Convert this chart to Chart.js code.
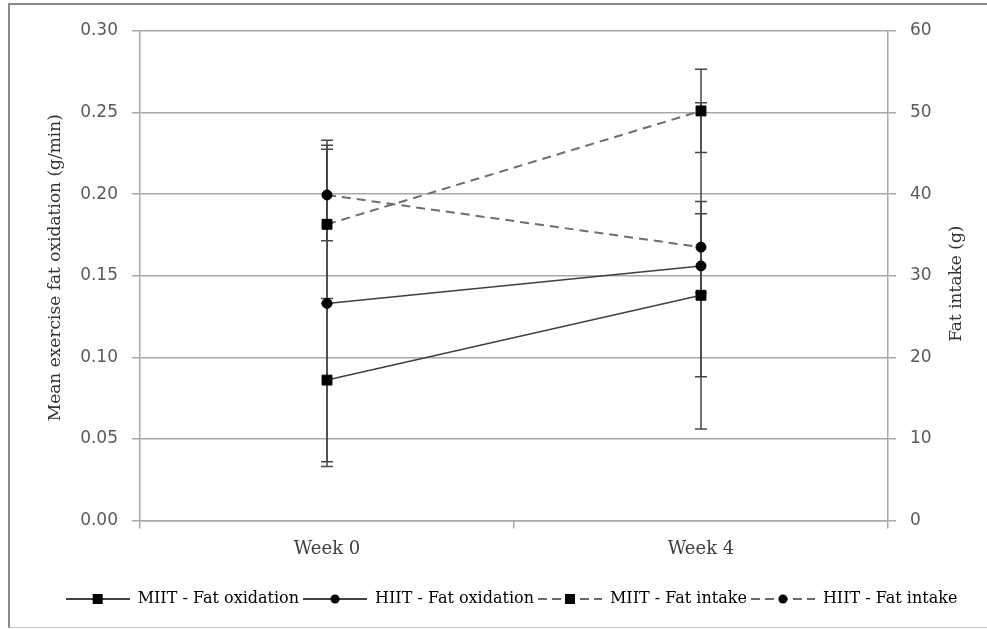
<!DOCTYPE html>
<html>
<head>
<meta charset="utf-8">
<script src="https://cdn.jsdelivr.net/npm/chart.js@4.4.1/dist/chart.umd.min.js"></script>
<style>
    html, body { margin: 0; padding: 0; background: #fff; }
    #wrap { position: relative; width: 987px; height: 629px; overflow: hidden; }
    #frame { position: absolute; left: 8px; top: 3px; width: 1000px; height: 622px;
             border-left: 2px solid #8a8a8a; border-top: 2px solid #8a8a8a; border-bottom: 1px solid #c8c8c8; }
    #fat_chart { position: absolute; left: 0; top: 0; }
</style>
</head>
<body>
<div id="wrap">
    <div id="frame"></div>
    <canvas id="fat_chart" width="987" height="629"></canvas>
</div>
<script>
var weeks = ["Week 0", "Week 4"];

// fat oxidation (g/min), left axis
var miitOx = [0.086, 0.138];
var miitOxErr = [0.050, 0.050];
var hiitOx = [0.133, 0.156];
var hiitOxErr = [0.100, 0.100];

// fat intake (g), right axis
var miitIntake = [36.3, 50.2];
var miitIntakeErr = [9.7, 5.1];
var hiitIntake = [39.9, 33.5];
var hiitIntakeErr = [5.6, 5.6];

var oxTicks = [0, 0.05, 0.10, 0.15, 0.20, 0.25, 0.30];
var intakeTicks = [0, 10, 20, 30, 40, 50, 60];

var gridColor = '#a8a8a8';
var serif = "'DejaVu Serif', serif";
var sans = "'DejaVu Sans', sans-serif";

// legend symbol: short line with the marker in the middle
function legendIcon(style, dashed) {
    var c = document.createElement('canvas');
    c.width = 64;
    c.height = 14;
    var g = c.getContext('2d');
    g.strokeStyle = dashed ? '#6a6a6a' : '#444';
    g.lineWidth = 2;
    if (dashed) g.setLineDash([9, 5]);
    g.beginPath();
    g.moveTo(0, 7);
    g.lineTo(64, 7);
    g.stroke();
    g.fillStyle = '#000';
    if (style === 'rect') {
        g.fillRect(27, 2, 10, 10);
    } else {
        g.beginPath();
        g.arc(32, 7, 4.5, 0, Math.PI * 2);
        g.fill();
    }
    return c;
}

var errorBars = {
    id: 'errorBars',
    beforeDatasetsDraw: function (chart) {
        var ctx = chart.ctx;
        ctx.save();
        ctx.strokeStyle = '#474747';
        ctx.lineWidth = 1.5;
        chart.data.datasets.forEach(function (ds, i) {
            var meta = chart.getDatasetMeta(i);
            var scale = chart.scales[ds.yAxisID];
            for (var j = 0; j < ds.data.length; j++) {
                var x = meta.data[j].x;
                var top = scale.getPixelForValue(ds.data[j] + ds.errors[j]);
                var bot = scale.getPixelForValue(ds.data[j] - ds.errors[j]);
                ctx.beginPath();
                ctx.moveTo(x, top);
                ctx.lineTo(x, bot);
                ctx.moveTo(x - 6, top);
                ctx.lineTo(x + 6, top);
                ctx.moveTo(x - 6, bot);
                ctx.lineTo(x + 6, bot);
                ctx.stroke();
            }
        });
        ctx.restore();
    }
};

var axisTitles = {
    id: 'axisTitles',
    afterDraw: function (chart) {
        var ctx = chart.ctx;
        var area = chart.chartArea;
        ctx.save();
        ctx.fillStyle = '#333';
        ctx.font = "17px " + serif;
        ctx.textAlign = 'center';
        ctx.textBaseline = 'middle';

        ctx.translate(56, (area.top + area.bottom) / 2 - 8);
        ctx.rotate(-Math.PI / 2);
        ctx.fillText("Mean exercise fat oxidation (g/min)", 0, 0);
        ctx.restore();

        ctx.save();
        ctx.fillStyle = '#333';
        ctx.font = "17px " + serif;
        ctx.textAlign = 'center';
        ctx.textBaseline = 'middle';
        ctx.translate(957, (area.top + area.bottom) / 2 + 8);
        ctx.rotate(-Math.PI / 2);
        ctx.fillText("Fat intake (g)", 0, 0);
        ctx.restore();
    }
};

function getChartJs() {
    var solid = {
        borderColor: '#404040',
        borderWidth: 1.5,
        pointBackgroundColor: '#000',
        pointBorderColor: '#000',
        pointBorderWidth: 1,
        fill: false,
        tension: 0
    };
    var dashed = {
        borderColor: '#6e6e6e',
        borderWidth: 2,
        borderDash: [9, 6],
        pointBackgroundColor: '#000',
        pointBorderColor: '#000',
        pointBorderWidth: 1,
        fill: false,
        tension: 0
    };

    var config = {
        type: 'line',
        data: {
            labels: weeks,
            datasets: [
                Object.assign({ label: "MIIT - Fat oxidation", data: miitOx, errors: miitOxErr, yAxisID: 'y',
                    pointStyle: 'rect', pointRadius: 7, icon: legendIcon('rect', false) }, solid),
                Object.assign({ label: "HIIT - Fat oxidation", data: hiitOx, errors: hiitOxErr, yAxisID: 'y',
                    pointStyle: 'circle', pointRadius: 5, icon: legendIcon('circle', false) }, solid),
                Object.assign({ label: "MIIT - Fat intake", data: miitIntake, errors: miitIntakeErr, yAxisID: 'y1',
                    pointStyle: 'rect', pointRadius: 7, icon: legendIcon('rect', true) }, dashed),
                Object.assign({ label: "HIIT - Fat intake", data: hiitIntake, errors: hiitIntakeErr, yAxisID: 'y1',
                    pointStyle: 'circle', pointRadius: 5, icon: legendIcon('circle', true) }, dashed)
            ]
        },
        options: {
            responsive: false,
            animation: false,
            devicePixelRatio: 1,
            layout: { padding: { top: 31, left: 36, right: 0, bottom: 12 } },
            plugins: {
                tooltip: { enabled: false },
                legend: {
                    position: 'bottom',
                    labels: {
                        usePointStyle: true,
                        pointStyleWidth: 64,
                        boxHeight: 14,
                        padding: 4,
                        color: '#333',
                        font: { family: serif, size: 16 },
                        generateLabels: function (chart) {
                            return chart.data.datasets.map(function (ds, i) {
                                return { text: ds.label, pointStyle: ds.icon, datasetIndex: i,
                                         fillStyle: '#000', strokeStyle: '#000', lineWidth: 0 };
                            });
                        }
                    }
                }
            },
            scales: {
                x: {
                    type: 'category',
                    offset: true,
                    afterFit: function (scale) { scale.height += 17; },
                    grid: { display: true, drawOnChartArea: false, offset: true, tickLength: 8, color: gridColor, lineWidth: 1.5 },
                    border: { color: gridColor, width: 1.5 },
                    ticks: { color: '#404040', font: { family: serif, size: 18 }, padding: 10 }
                },
                y: {
                    position: 'left',
                    min: 0,
                    max: 0.3,
                    afterBuildTicks: function (scale) {
                        scale.ticks = oxTicks.map(function (v) { return { value: v }; });
                    },
                    afterFit: function (scale) { scale.width = 104; },
                    grid: { color: gridColor, lineWidth: 1.5, tickLength: 8 },
                    border: { color: gridColor, width: 1.5 },
                    ticks: {
                        color: '#5a5a5a',
                        font: { family: sans, size: 17 },
                        padding: 14,
                        callback: function (v) { return v.toFixed(2); }
                    }
                },
                y1: {
                    position: 'right',
                    min: 0,
                    max: 60,
                    afterBuildTicks: function (scale) {
                        scale.ticks = intakeTicks.map(function (v) { return { value: v }; });
                    },
                    afterFit: function (scale) { scale.width = 99; },
                    grid: { drawOnChartArea: false, color: gridColor, lineWidth: 1.5, tickLength: 8 },
                    border: { color: gridColor, width: 1.5 },
                    ticks: { color: '#5a5a5a', font: { family: sans, size: 17 }, padding: 14 }
                }
            }
        },
        plugins: [errorBars, axisTitles]
    };
    return config;
}

new Chart(document.getElementById("fat_chart").getContext("2d"), getChartJs());
</script>
</body>
</html>
